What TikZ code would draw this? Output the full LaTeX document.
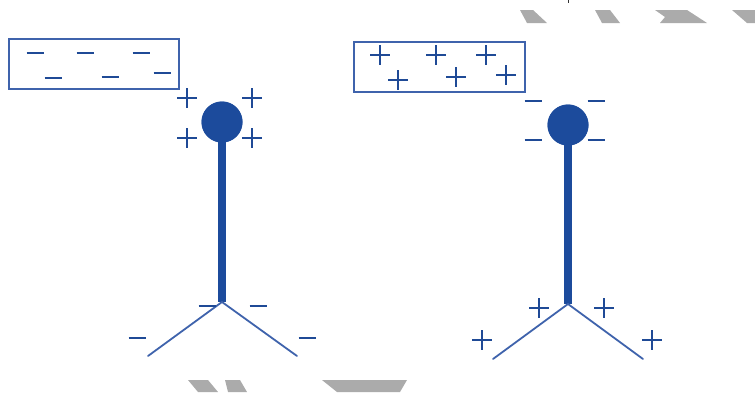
\documentclass[tikz,border=0pt]{standalone}
\definecolor{charge}{HTML}{1F4A96}
\definecolor{ballblue}{HTML}{1C4B9C}
\definecolor{wire}{HTML}{3F63AC}
\definecolor{shade}{HTML}{ABABAB}
\tikzset{
  minus/.pic={\draw[charge,line width=2.5pt] (-8.5,0)--(8.5,0);},
  plus/.pic={\draw[charge,line width=2.5pt] (-10,0)--(10,0) (0,-10)--(0,10);},
  chargebox/.style={draw=wire,line width=1.5pt,inner sep=0,anchor=north west},
  knob/.style={circle,fill=ballblue,minimum size=41pt,inner sep=0},
  rod/.style={draw=ballblue,line width=8pt},
  leaf/.style={draw=wire,line width=1.8pt},
  shadefill/.style={fill=shade}
}
\begin{document}
\begin{tikzpicture}[x=1pt,y=-1pt]
\useasboundingbox (0,0) rectangle (755,392);

% grey fragments along the edges
\fill[shadefill] (520,10)--(533,10)--(547,23)--(527,23)--cycle;
\fill[shadefill] (595,10)--(610,10)--(620,23)--(602,23)--cycle;
\fill[shadefill] (655,10)--(687,10)--(707,23)--(660,23)--(665,17)--cycle;
\fill[shadefill] (732,10)--(755,10)--(755,23)--(747,23)--cycle;
\fill[black!80] (567.5,0) rectangle (569,2.5);
\fill[shadefill] (188,380)--(208,380)--(218,392)--(198,392)--cycle;
\fill[shadefill] (225,380)--(240,380)--(247,392)--(228,392)--cycle;
\fill[shadefill] (322,380)--(407,380)--(400,392)--(337,392)--cycle;

% ---------- left electroscope: negative rod nearby ----------
\node[chargebox,minimum width=170pt,minimum height=50pt] (boxL) at (8,38) {};
\pic at (35,53) {minus};
\pic at (85,53) {minus};
\pic at (141,53) {minus};
\pic at (53,78) {minus};
\pic at (110,77) {minus};
\pic at (162,73) {minus};

\coordinate (apexL) at (222,302);
\coordinate (leafLa) at (148,356);
\coordinate (leafLb) at (297,356);
\node[knob] (knobL) at (222,122) {};
\draw[rod] (knobL.center) -- (apexL);
\node[knob] at (knobL.center) {};
\draw[leaf,line cap=round] (leafLa) -- (apexL) -- (leafLb);

\pic at (187,98) {plus};
\pic at (252,98) {plus};
\pic at (187,138) {plus};
\pic at (252,138) {plus};

\pic at (207,306) {minus};
\pic at (258,306) {minus};
\pic at (137,338) {minus};
\pic at (307,338) {minus};

% ---------- right electroscope: positive rod nearby ----------
\node[chargebox,minimum width=171pt,minimum height=50pt] (boxR) at (353,41) {};
\pic at (380,55) {plus};
\pic at (436,55) {plus};
\pic at (486,55) {plus};
\pic at (398,80) {plus};
\pic at (456,77) {plus};
\pic at (506,75) {plus};

\coordinate (apexR) at (568,304);
\coordinate (leafRa) at (493,359);
\coordinate (leafRb) at (643,359);
\node[knob] (knobR) at (568,125) {};
\draw[rod] (knobR.center) -- (apexR);
\node[knob] at (knobR.center) {};
\draw[leaf,line cap=round] (leafRa) -- (apexR) -- (leafRb);

\pic at (533,101) {minus};
\pic at (596,101) {minus};
\pic at (533,140) {minus};
\pic at (596,140) {minus};

\pic at (539,308) {plus};
\pic at (604,308) {plus};
\pic at (482,340) {plus};
\pic at (652,340) {plus};
\end{tikzpicture}
\end{document}
